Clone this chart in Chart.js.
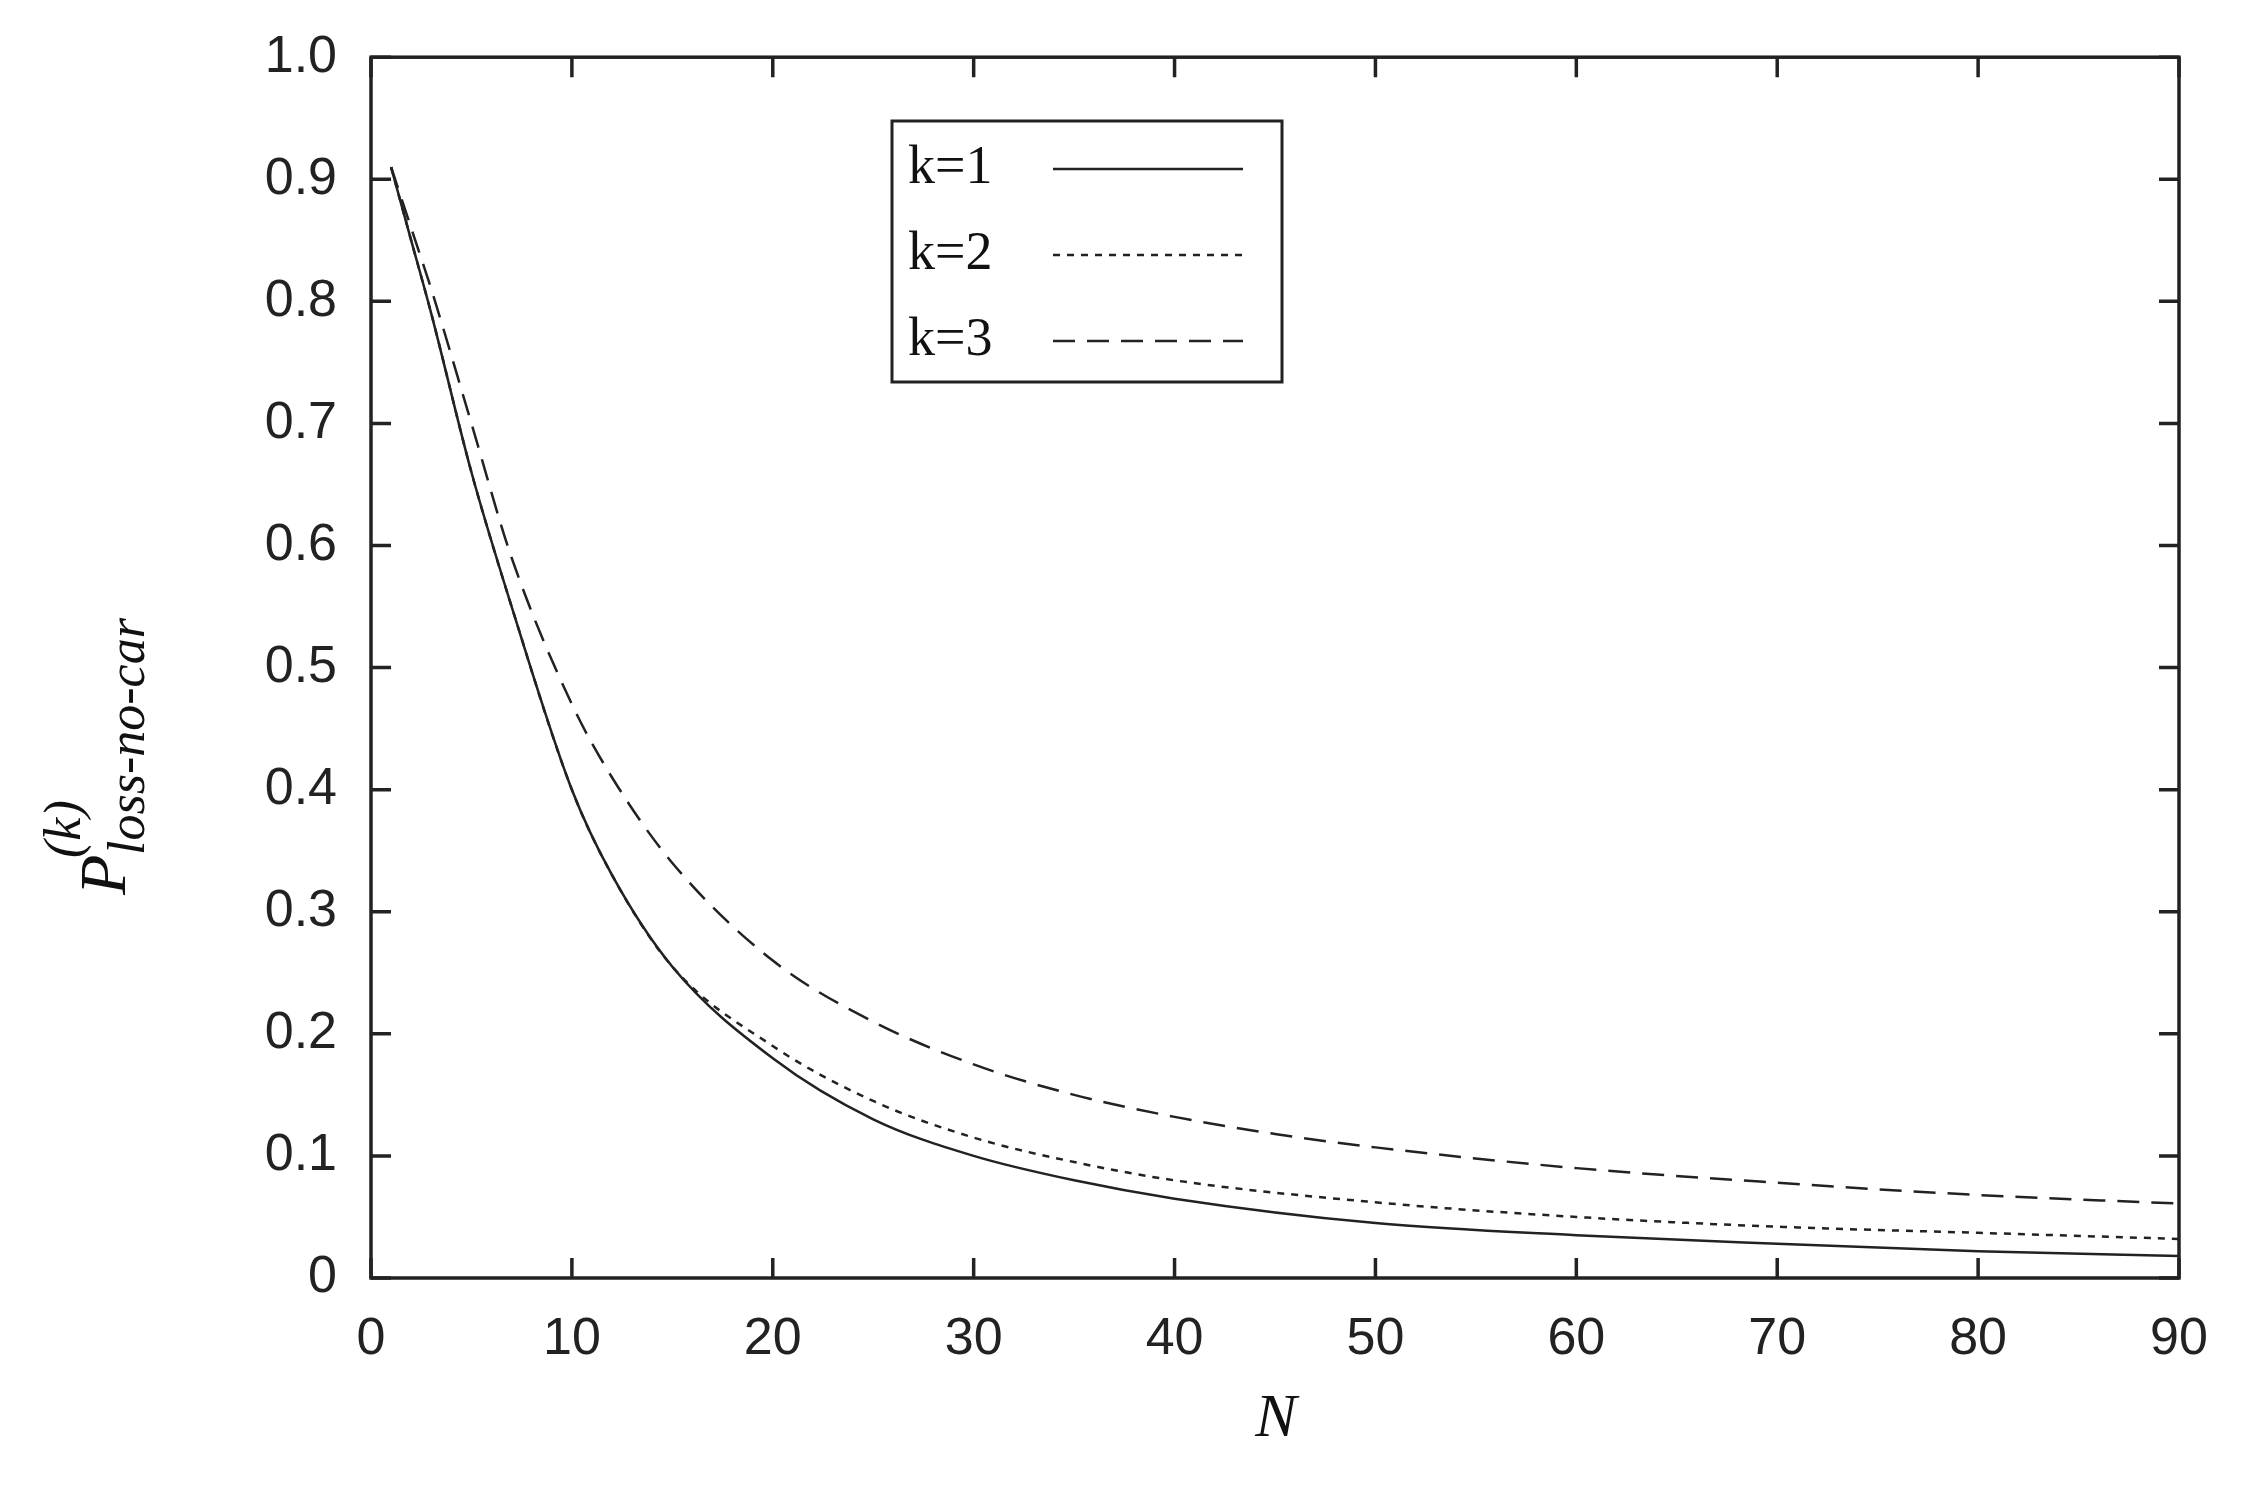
<!DOCTYPE html>
<html><head><meta charset="utf-8">
<script src="https://cdn.jsdelivr.net/npm/chart.js@4/dist/chart.umd.min.js"></script>
<style>html,body{margin:0;padding:0;background:#fff}canvas{display:block}</style>
</head><body>
<div style="width:2250px;height:1489px"><canvas id="c" width="2250" height="1489"></canvas></div>
<script>
const nK1 = [1, 2, 3, 5, 7, 10, 12, 15, 20, 25, 30, 35, 40, 50, 60, 70, 80, 90];
const k1 = [0.91, 0.85, 0.79, 0.66, 0.55, 0.40, 0.33, 0.255, 0.18, 0.13, 0.10, 0.08, 0.065, 0.045, 0.035, 0.028, 0.022, 0.018];
const k2 = [0.91, 0.85, 0.79, 0.66, 0.55, 0.40, 0.33, 0.255, 0.19, 0.145, 0.115, 0.095, 0.08, 0.062, 0.05, 0.042, 0.037, 0.032];
const nK3 = [1, 2, 3, 5, 7, 10, 12, 15, 20, 25, 30, 35, 40, 45, 50, 60, 70, 80, 90];
const k3 = [0.91, 0.86, 0.81, 0.70, 0.59, 0.47, 0.41, 0.34, 0.26, 0.21, 0.175, 0.15, 0.132, 0.118, 0.107, 0.09, 0.078, 0.068, 0.061];
const seriesNames = ['k=1', 'k=2', 'k=3'];
const dashes = [[], [7, 7], [22, 12]];

const pts = (xs, ys) => xs.map((x, i) => ({ x, y: ys[i] }));

const frame = {
  id: 'frame',
  afterDraw(chart) {
    const { ctx, chartArea: a, scales } = chart;
    ctx.save();
    ctx.strokeStyle = '#222';
    ctx.lineWidth = 3.5;
    ctx.strokeRect(a.left, a.top, a.right - a.left, a.bottom - a.top);
    const t = 20;
    ctx.beginPath();
    for (let v = 0; v <= 90; v += 10) {
      const x = scales.x.getPixelForValue(v);
      ctx.moveTo(x, a.bottom); ctx.lineTo(x, a.bottom - t);
      ctx.moveTo(x, a.top); ctx.lineTo(x, a.top + t);
    }
    for (let v = 0; v <= 10; v++) {
      const y = scales.y.getPixelForValue(v / 10);
      ctx.moveTo(a.left, y); ctx.lineTo(a.left + t, y);
      ctx.moveTo(a.right, y); ctx.lineTo(a.right - t, y);
    }
    ctx.stroke();

    // legend
    ctx.lineWidth = 3;
    ctx.strokeRect(892, 121, 390, 261);
    ctx.fillStyle = '#111';
    ctx.font = '54px "Liberation Serif"';
    ctx.textBaseline = 'middle';
    seriesNames.forEach((n, i) => {
      const y = 169 + i * 86;
      ctx.fillText(n, 908, y);
      ctx.setLineDash(dashes[i]);
      ctx.lineWidth = 2.5;
      ctx.beginPath(); ctx.moveTo(1053, y); ctx.lineTo(1243, y); ctx.stroke();
    });
    ctx.setLineDash([]);

    // axis titles
    ctx.textAlign = 'center';
    ctx.font = 'italic 62px "Liberation Serif"';
    ctx.fillText('N', 1276, 1420);
    ctx.translate(108, 780);
    ctx.rotate(-Math.PI / 2);
    ctx.textAlign = 'left';
    ctx.font = 'italic 66px "Liberation Serif"';
    ctx.fillText('P', -115, 0);
    ctx.font = 'italic 52px "Liberation Serif"';
    ctx.fillText('loss-no-car', -75, 22);
    ctx.fillText('(k)', -78, -42);
    ctx.restore();
  }
};

new Chart(document.getElementById('c'), {
  type: 'line',
  data: {
    datasets: [
      { label: seriesNames[0], data: pts(nK1, k1), borderDash: dashes[0] },
      { label: seriesNames[1], data: pts(nK1, k2), borderDash: dashes[1] },
      { label: seriesNames[2], data: pts(nK3, k3), borderDash: dashes[2] }
    ].map(d => Object.assign(d, { borderColor: '#222', borderWidth: 2.5, pointRadius: 0, tension: 0.4, cubicInterpolationMode: 'monotone', fill: false }))
  },
  options: {
    responsive: false,
    animation: false,
    devicePixelRatio: 1,
    layout: { padding: { top: 53, right: 71, left: 0, bottom: 0 } },
    plugins: { legend: { display: false }, tooltip: { enabled: false } },
    scales: {
      x: {
        type: 'linear', min: 0, max: 90,
        grid: { display: false },
        border: { display: false },
        ticks: { stepSize: 10, padding: 22, color: '#222', font: { family: 'Liberation Sans', size: 52 } },
        afterFit: s => { s.height = 211; }
      },
      y: {
        min: 0, max: 1,
        grid: { display: false },
        border: { display: false },
        ticks: { stepSize: 0.1, padding: 26, color: '#222', font: { family: 'Liberation Sans', size: 52 } },
        afterFit: s => { s.width = 371; }
      }
    }
  },
  plugins: [frame]
});
</script>
</body></html>
